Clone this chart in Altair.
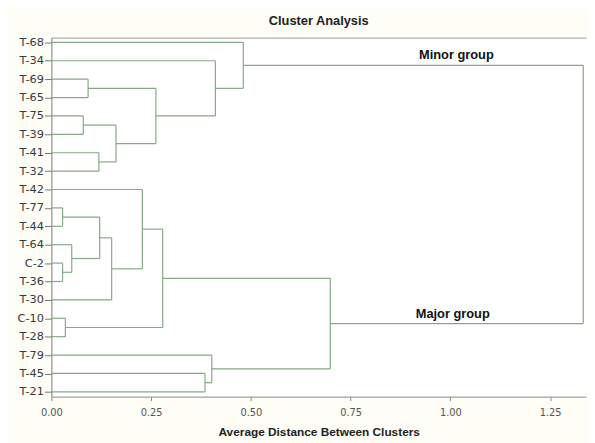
import altair as alt
import pandas as pd

# Leaves, top to bottom
leaves = ["T-68", "T-34", "T-69", "T-65", "T-75", "T-39", "T-41", "T-32", "T-42", "T-77",
          "T-44", "T-64", "C-2", "T-36", "T-30", "C-10", "T-28", "T-79", "T-45", "T-21"]

# Merges: (left child, right child, distance); children are leaf names or merge ids "m1".."m19"
merge_a = ["T-69", "T-75", "T-41", "m2", "m1", "T-34", "T-68", "T-77", "C-2", "T-64",
           "m8", "m11", "T-42", "C-10", "m13", "T-45", "T-79", "m15", "m7"]
merge_b = ["T-65", "T-39", "T-32", "m3", "m4", "m5", "m6", "T-44", "T-36", "m9",
           "m10", "T-30", "m12", "T-28", "m14", "T-21", "m16", "m17", "m18"]
merge_h = [0.092, 0.080, 0.119, 0.162, 0.262, 0.411, 0.481, 0.028, 0.028, 0.051,
           0.121, 0.151, 0.228, 0.035, 0.279, 0.385, 0.402, 0.699, 1.333]

ann_text = ["Minor group", "Major group"]
ann_x = [1.015, 1.006]
ann_y = [0.705, 14.75]

x_ticks = [0.0, 0.25, 0.5, 0.75, 1.0, 1.25]

# Build dendrogram segments from the tree
pos = {name: (0.0, float(i)) for i, name in enumerate(leaves)}
rows = []
for k, (a, b, h) in enumerate(zip(merge_a, merge_b, merge_h), start=1):
    xa, ya = pos[a]
    xb, yb = pos[b]
    rows.append({"x": xa, "x2": h, "y": ya, "y2": ya})
    rows.append({"x": xb, "x2": h, "y": yb, "y2": yb})
    rows.append({"x": h, "x2": h, "y": ya, "y2": yb})
    pos[f"m{k}"] = (h, (ya + yb) / 2)
seg = pd.DataFrame(rows)
ann = pd.DataFrame({"text": ann_text, "x": ann_x, "y": ann_y})

label_arr = "[" + ",".join(f"'{s}'" for s in leaves) + "]"

xscale = alt.Scale(domain=[0, 1.34], nice=False, zero=False)
yscale = alt.Scale(domain=[-0.26, 19.26], nice=False, zero=False, reverse=True)

yaxis = alt.Axis(values=list(range(len(leaves))), labelExpr=label_arr + "[datum.value]",
                 grid=False, title=None, labelOverlap=False)

lines = alt.Chart(seg).mark_rule(color="#86a886", strokeWidth=1.2).encode(
    x=alt.X("x:Q", scale=xscale,
            axis=alt.Axis(values=x_ticks, format=".2f", grid=False,
                          title="Average Distance Between Clusters",
                          titleFont="Liberation Sans", titleFontSize=12, titleFontWeight="bold",
                          titleColor="#222", titlePadding=9, labelFlush=False,
                          labelFont="DejaVu Sans", labelFontSize=10, labelColor="#555",
                          labelPadding=7, tickSize=4, tickColor="#888", domainColor="#888")),
    x2="x2:Q",
    y=alt.Y("y:Q", scale=yscale, axis=yaxis),
    y2="y2:Q",
)

texts = alt.Chart(ann).mark_text(font="Liberation Sans", fontSize=13, fontWeight="bold",
                                 color="#111", align="center", baseline="middle").encode(
    x=alt.X("x:Q", scale=xscale,
            axis=alt.Axis(orient="top", labels=False, ticks=False, grid=False, title=None,
                          domainColor="#999")),
    y=alt.Y("y:Q", scale=yscale, axis=yaxis),
    text="text:N",
)

chart = alt.layer(lines, texts).resolve_axis(x="independent").properties(
    width=542,
    height=364,
    title=alt.TitleParams("Cluster Analysis", font="Liberation Sans", fontSize=13,
                          fontWeight="bold", color="#222", anchor="middle", offset=9),
    autosize=alt.AutoSizeParams(type="none"),
    padding={"left": 44, "top": 27, "right": 1, "bottom": 44},
    background="#fefdf6",
).configure_view(fill="white", stroke=None).configure_axisY(
    labelFont="DejaVu Sans", labelFontSize=11.5, labelColor="#3a3a3a", labelPadding=1,
    labelOverlap=False, labelBound=False, ticks=True, tickSize=7, tickColor="#777",
    tickWidth=1, domain=True, domainColor="#777", domainWidth=1,
)

chart.save("out.html", embed_options={"renderer": "svg", "actions": False})
